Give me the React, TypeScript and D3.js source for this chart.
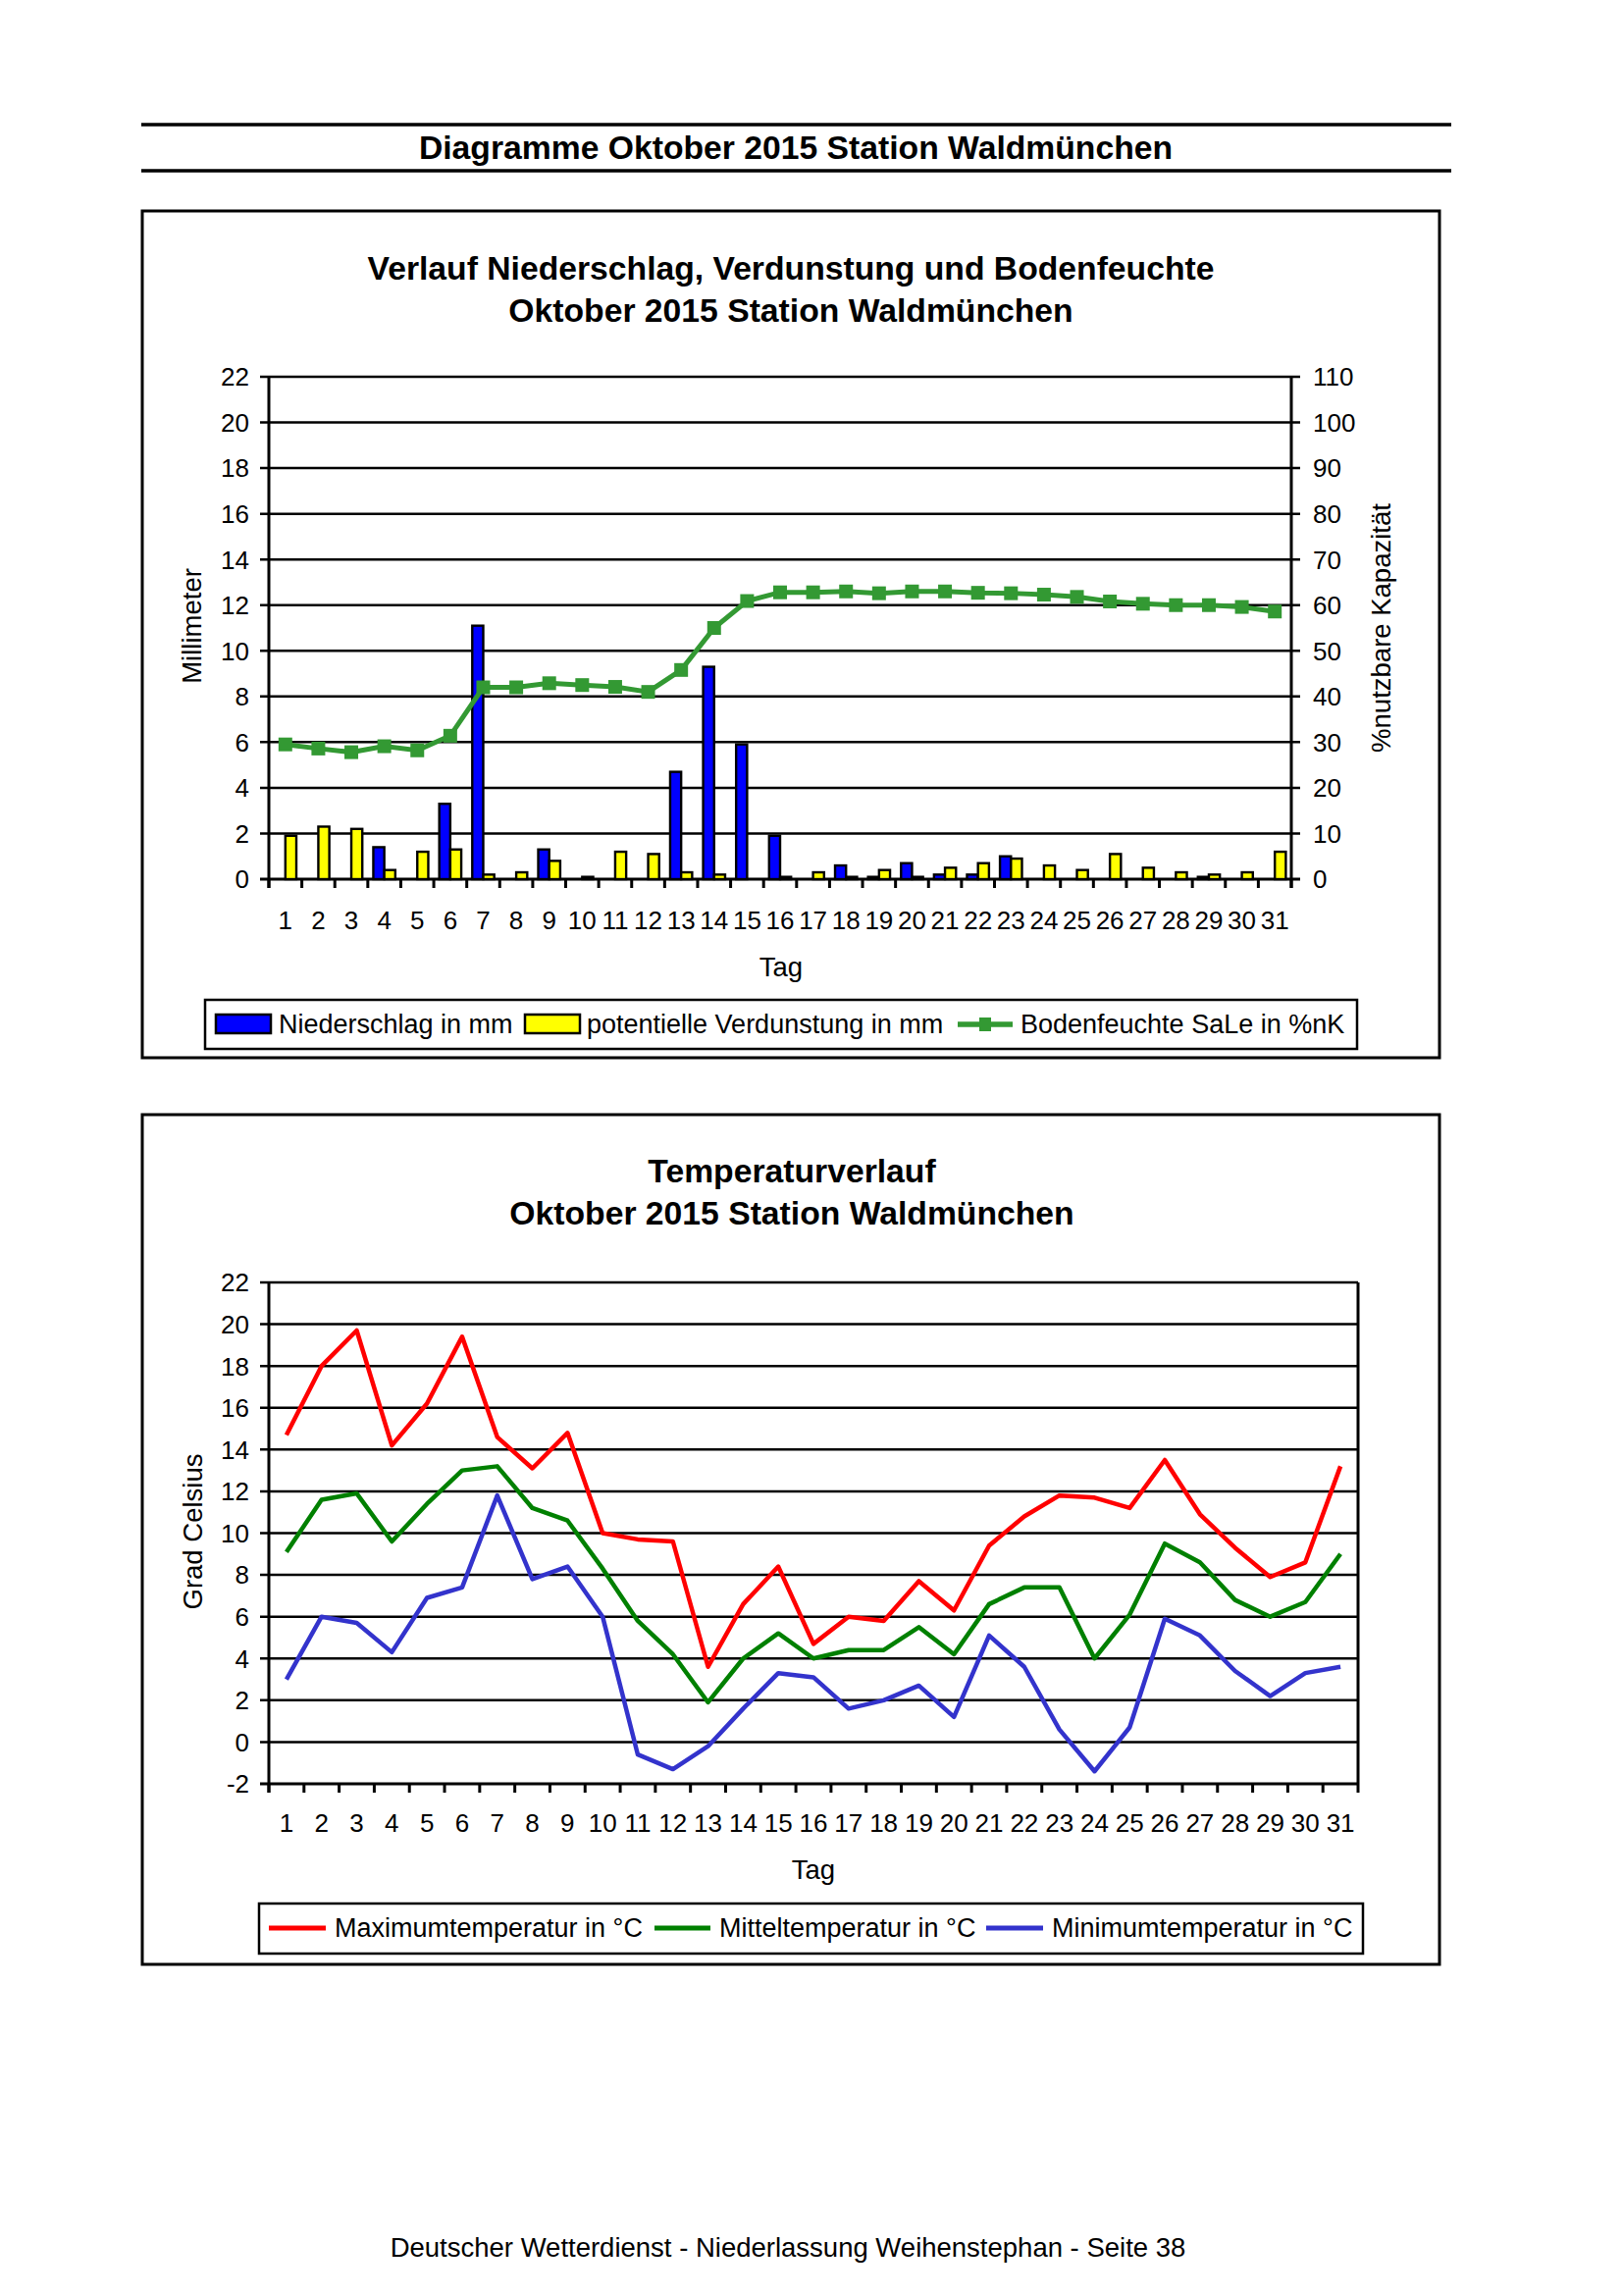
import React from 'react';
import * as d3 from 'd3';

const days = ['1','2','3','4','5','6','7','8','9','10','11','12','13','14','15','16','17','18','19','20','21','22','23','24','25','26','27','28','29','30','31'];

const precip = [0, 0, 0, 1.4, 0, 3.3, 11.1, 0, 1.3, 0, 0, 0, 4.7, 9.3, 5.9, 1.9, 0, 0.6, 0.1, 0.7, 0.2, 0.2, 1.0, 0, 0, 0, 0, 0, 0.1, 0, 0];
const evap = [1.9, 2.3, 2.2, 0.4, 1.2, 1.3, 0.2, 0.3, 0.8, 0.1, 1.2, 1.1, 0.3, 0.2, 0, 0.1, 0.3, 0.1, 0.4, 0.1, 0.5, 0.7, 0.9, 0.6, 0.4, 1.1, 0.5, 0.3, 0.2, 0.3, 1.2];
const soil = [29.5, 28.6, 27.8, 29.1, 28.2, 31.4, 42.0, 42.0, 42.9, 42.5, 42.1, 41.0, 45.8, 55.0, 60.9, 62.8, 62.8, 63.0, 62.6, 63.0, 63.0, 62.7, 62.6, 62.3, 61.8, 60.8, 60.3, 60.0, 60.0, 59.6, 58.6];

const tMax = [14.7, 18.0, 19.7, 14.2, 16.2, 19.4, 14.6, 13.1, 14.8, 10.0, 9.7, 9.6, 3.6, 6.6, 8.4, 4.7, 6.0, 5.8, 7.7, 6.3, 9.4, 10.8, 11.8, 11.7, 11.2, 13.5, 10.9, 9.3, 7.9, 8.6, 13.2];
const tMean = [9.1, 11.6, 11.9, 9.6, 11.4, 13.0, 13.2, 11.2, 10.6, 8.3, 5.8, 4.2, 1.9, 4.0, 5.2, 4.0, 4.4, 4.4, 5.5, 4.2, 6.6, 7.4, 7.4, 4.0, 6.1, 9.5, 8.6, 6.8, 6.0, 6.7, 9.0];
const tMin = [3.0, 6.0, 5.7, 4.3, 6.9, 7.4, 11.8, 7.8, 8.4, 6.0, -0.6, -1.3, -0.2, 1.6, 3.3, 3.1, 1.6, 2.0, 2.7, 1.2, 5.1, 3.6, 0.6, -1.4, 0.7, 5.9, 5.1, 3.4, 2.2, 3.3, 3.6];

const leftTicks1 = [0, 2, 4, 6, 8, 10, 12, 14, 16, 18, 20, 22];
const rightTicks1 = [0, 10, 20, 30, 40, 50, 60, 70, 80, 90, 100, 110];
const ticks2 = [-2, 0, 2, 4, 6, 8, 10, 12, 14, 16, 18, 20, 22];

const FONT = "'Liberation Sans', Arial, Helvetica, sans-serif";

const C_BLUE = '#0000ff';
const C_YELLOW = '#ffff00';
const C_SOIL = '#339933';
const C_RED = '#ff0000';
const C_GREEN = '#008000';
const C_MIN = '#3333cc';

const TICK_FS = 26;
const LEG_FS = 27;
const AX_FS = 27.5;
const TITLE_FS = 33.7;

function Chart1() {
  const L = 274, R = 1316, T = 384, B = 896;
  const x = d3.scaleBand().domain(days).range([L, R]).padding(0);
  const y = d3.scaleLinear().domain([0, 22]).range([B, T]);
  const y2 = d3.scaleLinear().domain([0, 110]).range([B, T]);
  const bw = x.bandwidth() / 3;
  const cx = (d: string) => (x(d) as number) + x.bandwidth() / 2;
  const line = d3.line<number>().x((_, i) => cx(days[i])).y((v) => y2(v));
  const ms = 14;
  return (
    <g>
      <rect x={145} y={215} width={1322} height={863} fill="white" stroke="black" strokeWidth={3} />
      <text x={806} y={285} textAnchor="middle" fontFamily={FONT} fontWeight="bold" fontSize={TITLE_FS}>Verlauf Niederschlag, Verdunstung und Bodenfeuchte</text>
      <text x={806} y={328} textAnchor="middle" fontFamily={FONT} fontWeight="bold" fontSize={TITLE_FS}>Oktober 2015 Station Waldmünchen</text>
      {leftTicks1.map((t) => (
        <g key={'g' + t}>
          <line x1={265} x2={R + 9} y1={y(t)} y2={y(t)} stroke="black" strokeWidth={t === 0 ? 3 : 2.5} />
          <text x={254} y={y(t)} dy="0.36em" textAnchor="end" fontFamily={FONT} fontSize={TICK_FS}>{t}</text>
        </g>
      ))}
      {rightTicks1.map((t) => (
        <text key={'r' + t} x={1338} y={y2(t)} dy="0.36em" textAnchor="start" fontFamily={FONT} fontSize={TICK_FS}>{t}</text>
      ))}
      <line x1={L} x2={L} y1={T} y2={B + 9} stroke="black" strokeWidth={3} />
      <line x1={R} x2={R} y1={T} y2={B + 9} stroke="black" strokeWidth={3} />
      {d3.range(0, days.length + 1).map((i) => (
        <line key={'xt' + i} x1={L + i * x.bandwidth()} x2={L + i * x.bandwidth()} y1={B} y2={B + 9} stroke="black" strokeWidth={3} />
      ))}
      {days.map((d) => (
        <text key={'xl' + d} x={cx(d)} y={947} textAnchor="middle" fontFamily={FONT} fontSize={TICK_FS}>{d}</text>
      ))}
      {days.map((d, i) => precip[i] > 0 ? (
        <rect key={'p' + d} x={cx(d) - bw} y={y(precip[i])} width={bw} height={B - y(precip[i])} fill={C_BLUE} stroke="black" strokeWidth={2.4} />
      ) : null)}
      {days.map((d, i) => evap[i] > 0 ? (
        <rect key={'e' + d} x={cx(d)} y={y(evap[i])} width={bw} height={B - y(evap[i])} fill={C_YELLOW} stroke="black" strokeWidth={2.4} />
      ) : null)}
      <path d={line(soil) as string} fill="none" stroke={C_SOIL} strokeWidth={5} />
      {days.map((d, i) => (
        <rect key={'s' + d} x={cx(d) - ms / 2} y={y2(soil[i]) - ms / 2} width={ms} height={ms} fill={C_SOIL} />
      ))}
      <text x={796} y={995} textAnchor="middle" fontFamily={FONT} fontSize={AX_FS}>Tag</text>
      <text transform="translate(205,638) rotate(-90)" textAnchor="middle" fontFamily={FONT} fontSize={AX_FS}>Millimeter</text>
      <text transform="translate(1417,640) rotate(-90)" textAnchor="middle" fontFamily={FONT} fontSize={AX_FS}>%nutzbare Kapazität</text>
      <rect x={209} y={1019} width={1174} height={50} fill="white" stroke="black" strokeWidth={2.5} />
      <rect x={220} y={1034} width={56} height={19} fill={C_BLUE} stroke="black" strokeWidth={2.5} />
      <text x={284} y={1053} fontFamily={FONT} fontSize={LEG_FS}>Niederschlag in mm</text>
      <rect x={535} y={1034} width={56} height={19} fill={C_YELLOW} stroke="black" strokeWidth={2.5} />
      <text x={598} y={1053} fontFamily={FONT} fontSize={LEG_FS}>potentielle Verdunstung in mm</text>
      <line x1={976} x2={1032} y1={1044} y2={1044} stroke={C_SOIL} strokeWidth={5.5} />
      <rect x={998} y={1037} width={12} height={14} fill={C_SOIL} />
      <text x={1040} y={1053} fontFamily={FONT} fontSize={LEG_FS}>Bodenfeuchte SaLe in %nK</text>
    </g>
  );
}

function Chart2() {
  const L = 274, R = 1384, T = 1307, B = 1818;
  const x = d3.scaleBand().domain(days).range([L, R]).padding(0);
  const y = d3.scaleLinear().domain([-2, 22]).range([B, T]);
  const cx = (d: string) => (x(d) as number) + x.bandwidth() / 2;
  const line = d3.line<number>().x((_, i) => cx(days[i])).y((v) => y(v));
  const series = [
    { vals: tMax, color: C_RED },
    { vals: tMean, color: C_GREEN },
    { vals: tMin, color: C_MIN },
  ];
  return (
    <g>
      <rect x={145} y={1136} width={1322} height={866} fill="white" stroke="black" strokeWidth={3} />
      <text x={807} y={1205} textAnchor="middle" fontFamily={FONT} fontWeight="bold" fontSize={TITLE_FS}>Temperaturverlauf</text>
      <text x={807} y={1248} textAnchor="middle" fontFamily={FONT} fontWeight="bold" fontSize={TITLE_FS}>Oktober 2015 Station Waldmünchen</text>
      {ticks2.map((t) => (
        <g key={'g' + t}>
          <line x1={265} x2={R} y1={y(t)} y2={y(t)} stroke="black" strokeWidth={t === -2 ? 3 : 2.5} />
          <text x={254} y={y(t)} dy="0.36em" textAnchor="end" fontFamily={FONT} fontSize={TICK_FS}>{t}</text>
        </g>
      ))}
      <line x1={L} x2={L} y1={T} y2={B + 9} stroke="black" strokeWidth={3} />
      <line x1={R} x2={R} y1={T} y2={B} stroke="black" strokeWidth={3} />
      {d3.range(0, days.length + 1).map((i) => (
        <line key={'xt' + i} x1={L + i * x.bandwidth()} x2={L + i * x.bandwidth()} y1={B} y2={B + 9} stroke="black" strokeWidth={3} />
      ))}
      {days.map((d) => (
        <text key={'xl' + d} x={cx(d)} y={1867} textAnchor="middle" fontFamily={FONT} fontSize={TICK_FS}>{d}</text>
      ))}
      {series.map((s, k) => (
        <path key={'l' + k} d={line(s.vals) as string} fill="none" stroke={s.color} strokeWidth={4.5} strokeLinejoin="round" />
      ))}
      <text x={829} y={1915} textAnchor="middle" fontFamily={FONT} fontSize={AX_FS}>Tag</text>
      <text transform="translate(206,1561) rotate(-90)" textAnchor="middle" fontFamily={FONT} fontSize={AX_FS}>Grad Celsius</text>
      <rect x={264} y={1940} width={1125} height={51} fill="white" stroke="black" strokeWidth={2.5} />
      <line x1={274} x2={332} y1={1965} y2={1965} stroke={C_RED} strokeWidth={5} />
      <text x={341} y={1974} fontFamily={FONT} fontSize={LEG_FS}>Maximumtemperatur in °C</text>
      <line x1={667} x2={724} y1={1965} y2={1965} stroke={C_GREEN} strokeWidth={5} />
      <text x={733} y={1974} fontFamily={FONT} fontSize={LEG_FS}>Mitteltemperatur in °C</text>
      <line x1={1005} x2={1063} y1={1965} y2={1965} stroke={C_MIN} strokeWidth={5} />
      <text x={1072} y={1974} fontFamily={FONT} fontSize={LEG_FS}>Minimumtemperatur in °C</text>
    </g>
  );
}

export default function App() {
  return (
    <svg width={1653} height={2340} viewBox="0 0 1653 2340" style={{ position: 'absolute', left: 0, top: 0, background: 'white' }}>
      <rect x={0} y={0} width={1653} height={2340} fill="white" />
      <line x1={144} x2={1479} y1={127} y2={127} stroke="black" strokeWidth={3.5} />
      <text x={811} y={162} textAnchor="middle" fontFamily={FONT} fontWeight="bold" fontSize={TITLE_FS}>Diagramme Oktober 2015 Station Waldmünchen</text>
      <line x1={144} x2={1479} y1={174} y2={174} stroke="black" strokeWidth={3.5} />
      <Chart1 />
      <Chart2 />
      <text x={803} y={2300} textAnchor="middle" fontFamily={FONT} fontSize={27.5}>Deutscher Wetterdienst - Niederlassung Weihenstephan - Seite 38</text>
    </svg>
  );
}
